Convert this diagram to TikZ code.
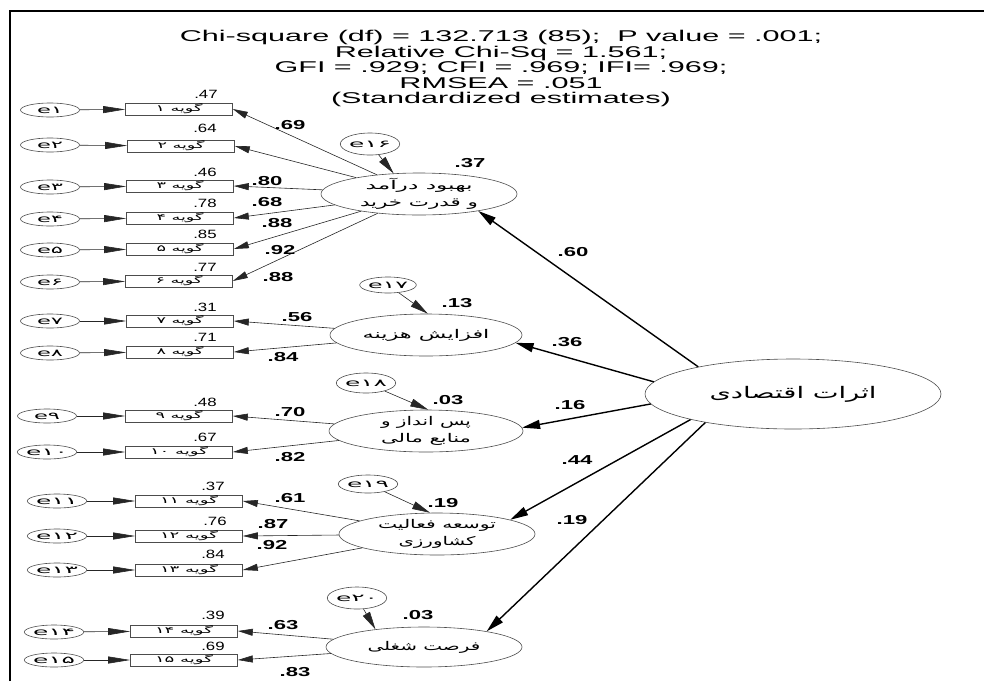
\documentclass[tikz,border=0pt]{standalone}
\usepackage{fontspec}
\usepackage{graphicx}
\setmainfont{Liberation Sans}
\newfontfamily\arfont[Script=Arabic]{DejaVu Sans}
\newfontfamily\dvfont{DejaVu Sans}
\TeXXeTstate=1
\usetikzlibrary{arrows.meta,shapes.geometric,calc}
\newcommand\fitw[2]{\resizebox{#1}{\height}{#2}}
\newcommand\sxs[2]{\scalebox{#1}[1]{#2}}
\newcommand\gv[1]{\fitw{47pt}{\beginR گویه \beginL #1\endL\endR}}
\newcommand\gvv[1]{\fitw{58pt}{\beginR گویه \beginL #1\endL\endR}}
\newcommand\ear[1]{\fitw{26pt}{e#1}}
\newcommand\eer[1]{\fitw{42pt}{e#1}}
\newcommand\rn[1]{\sxs{1.4}{#1}}
\newcommand\bn[1]{\sxs{1.7}{#1}}
\newcommand\ttl[1]{\sxs{1.96}{#1}}
\tikzset{
  ldarrow/.style={-{Triangle[length=15pt,width=7pt]}, line width=0.6pt, draw=black!85},
  errarrow/.style={-{Triangle[length=22pt,width=7pt]}, line width=0.6pt, draw=black!85},
  ferrarrow/.style={-{Triangle[length=18pt,width=8pt]}, line width=0.6pt, draw=black!85},
  patharrow/.style={-{Triangle[length=18pt,width=9pt]}, line width=1.4pt, draw=black},
  itembox/.style={rectangle, draw=black!70, line width=0.6pt, minimum width=107pt, minimum height=12pt, inner sep=0pt, font=\arfont\fontsize{9}{9}\selectfont},
  errell/.style={ellipse, draw=black!70, line width=0.6pt, minimum width=59pt, minimum height=14pt, inner sep=0pt, font=\dvfont\fontsize{10}{10}\selectfont},
  ferr/.style={ellipse, draw=black!70, line width=0.6pt, inner sep=0pt, font=\dvfont\fontsize{10}{10}\selectfont},
  lat/.style={ellipse, draw=black!70, line width=0.6pt, inner sep=0pt, minimum width=196pt, minimum height=42pt},
  ftext/.style={font=\arfont\fontsize{12}{17}\selectfont, align=center, inner sep=0pt},
  rsq/.style={font=\fontsize{12}{12}\selectfont, inner sep=0pt},
  ldl/.style={font=\bfseries\fontsize{13}{13}\selectfont, inner sep=0pt},
  ttlstyle/.style={font=\fontsize{15.6}{15.6}\selectfont, inner sep=0pt, anchor=base}
}
\begin{document}
\begin{tikzpicture}[x=1pt,y=-1pt]
\useasboundingbox (0,0) rectangle (984,681);
% frame
\coordinate (fbl) at (10,681);
\coordinate (ftl) at (10,11);
\coordinate (ftr) at (984,11);
\draw[line width=2pt] (fbl) -- (ftl) -- (ftr);
% title
\node[ttlstyle] (t1) at (501,41.5) {\ttl{Chi-square (df) = 132.713 (85);~ P value = .001;}};
\node[ttlstyle] (t2) at (501,57) {\ttl{Relative Chi-Sq = 1.561;}};
\node[ttlstyle] (t3) at (501,72.5) {\ttl{GFI = .929; CFI = .969; IFI= .969;}};
\node[ttlstyle] (t4) at (501,88) {\ttl{RMSEA = .051}};
\node[ttlstyle] (t5) at (501,103.5) {\ttl{(Standardized estimates)}};
% items
\node[itembox] (b1) at (179,109) {\gv{۱}};
\node[itembox] (b2) at (181,146) {\gv{۲}};
\node[itembox] (b3) at (180,186) {\gv{۳}};
\node[itembox] (b4) at (180,218) {\gv{۴}};
\node[itembox] (b5) at (180,249) {\gv{۵}};
\node[itembox] (b6) at (179,281) {\gv{۶}};
\node[itembox] (b7) at (180,321) {\gv{۷}};
\node[itembox] (b8) at (180,352) {\gv{۸}};
\node[itembox] (b9) at (179,416) {\gv{۹}};
\node[itembox] (b10) at (179,452) {\gvv{۱۰}};
\node[itembox] (b11) at (189,501) {\gvv{۱۱}};
\node[itembox] (b12) at (189,536) {\gvv{۱۲}};
\node[itembox] (b13) at (189,570) {\gvv{۱۳}};
\node[itembox] (b14) at (184,631) {\gvv{۱۴}};
\node[itembox] (b15) at (184,660) {\gvv{۱۵}};
% item errors
\node[errell] (e1) at (50,110) {\ear{۱}};
\node[errell] (e2) at (50,145) {\ear{۲}};
\node[errell] (e3) at (50,187) {\ear{۳}};
\node[errell] (e4) at (50,219) {\ear{۴}};
\node[errell] (e5) at (50,250) {\ear{۵}};
\node[errell] (e6) at (50,282) {\ear{۶}};
\node[errell] (e7) at (50,321) {\ear{۷}};
\node[errell] (e8) at (50,353) {\ear{۸}};
\node[errell] (e9) at (47,416) {\ear{۹}};
\node[errell] (e10) at (47,452) {\eer{۱۰}};
\node[errell] (e11) at (57,501) {\eer{۱۱}};
\node[errell] (e12) at (57,536) {\eer{۱۲}};
\node[errell] (e13) at (57,570) {\eer{۱۳}};
\node[errell] (e14) at (54,632) {\eer{۱۴}};
\node[errell] (e15) at (54,660) {\eer{۱۵}};
\foreach \i in {1,...,15} {\draw[errarrow] (e\i) -- (b\i);}
% latent factors
\node[lat] (F1) at (419,194) {};
\node[lat, minimum width=192pt] (F2) at (426,335) {};
\node[lat, minimum width=194pt] (F3) at (426,431) {};
\node[lat] (F4) at (437,534) {};
\node[lat, minimum height=40pt] (F5) at (424,647) {};
\node[lat, minimum width=296pt, minimum height=70pt] (M) at (793,394) {};
\node[ftext] (F1t) at (F1.center) {\fitw{107pt}{\beginR بهبود درآمد\endR}\\\fitw{118pt}{\beginR و قدرت خرید\endR}};
\node[ftext] (F2t) at (F2.center) {\fitw{127pt}{\beginR افزایش هزینه\endR}};
\node[ftext] (F3t) at (F3.center) {\fitw{90pt}{\beginR پس انداز و\endR}\\\fitw{90pt}{\beginR منابع مالی\endR}};
\node[ftext] (F4t) at (F4.center) {\fitw{118pt}{\beginR توسعه فعالیت\endR}\\\fitw{77pt}{\beginR کشاورزی\endR}};
\node[ftext] (F5t) at (F5.center) {\fitw{113pt}{\beginR فرصت شغلی\endR}};
\node[ftext, font=\arfont\fontsize{16}{16}\selectfont] (Mt) at (M.center) {\fitw{167pt}{\beginR اثرات اقتصادی\endR}};
% factor errors
\node[ferr, minimum width=55pt, minimum height=22pt] (e16) at (370,144) {\eer{۱۶}};
\node[ferr, minimum width=47pt, minimum height=16pt] (e17) at (388,285) {\fitw{40pt}{e۱۷}};
\node[ferr, minimum width=57pt, minimum height=20pt] (e18) at (366,383) {\eer{۱۸}};
\node[ferr, minimum width=57pt, minimum height=18pt] (e19) at (368,484) {\eer{۱۹}};
\node[ferr, minimum width=55pt, minimum height=22pt] (e20) at (357,598) {\eer{۲۰}};
\draw[ferrarrow] (e16) -- (F1.141);
\draw[ferrarrow] (e17) -- (F2.85);
\draw[ferrarrow] (e18) -- (F3.84);
\draw[ferrarrow] (e19) -- (F4.108);
\draw[ferrarrow] (e20) -- (F5.160);
% loadings
\foreach \i in {1,...,6} {\draw[ldarrow] (F1) -- (b\i.east);}
\foreach \i in {7,8} {\draw[ldarrow] (F2) -- (b\i.east);}
\foreach \i in {9,10} {\draw[ldarrow] (F3) -- (b\i.east);}
\foreach \i in {11,12,13} {\draw[ldarrow] (F4) -- (b\i.east);}
\foreach \i in {14,15} {\draw[ldarrow] (F5) -- (b\i.east);}
% structural paths
\draw[patharrow] (M.164) -- (F1.344);
\draw[patharrow] (M.175) -- (F2.355);
\draw[patharrow] (M.184.5) -- (F3.2.4);
\draw[patharrow] (M.194) -- (F4.11);
\draw[patharrow] (M.198.5) -- (F5.14.4);
% R-squared of items
\node[rsq] (r1) at (206,94) {\rn{.47}};
\node[rsq] (r2) at (205,128) {\rn{.64}};
\node[rsq] (r3) at (205,172) {\rn{.46}};
\node[rsq] (r4) at (205,203) {\rn{.78}};
\node[rsq] (r5) at (205,234) {\rn{.85}};
\node[rsq] (r6) at (205,267) {\rn{.77}};
\node[rsq] (r7) at (205,307) {\rn{.31}};
\node[rsq] (r8) at (205,337) {\rn{.71}};
\node[rsq] (r9) at (205,402) {\rn{.48}};
\node[rsq] (r10) at (205,437) {\rn{.67}};
\node[rsq] (r11) at (213,486) {\rn{.37}};
\node[rsq] (r12) at (215,521) {\rn{.76}};
\node[rsq] (r13) at (213,554) {\rn{.84}};
\node[rsq] (r14) at (213,615) {\rn{.39}};
\node[rsq] (r15) at (213,646) {\rn{.69}};
% loadings labels
\node[ldl] (l1) at (290,125) {\bn{.69}};
\node[ldl] (l3) at (267,181) {\bn{.80}};
\node[ldl] (l4) at (267,202) {\bn{.68}};
\node[ldl] (l5) at (277,223) {\bn{.88}};
\node[ldl] (l6) at (280,250) {\bn{.92}};
\node[ldl] (l2) at (278,277) {\bn{.88}};
\node[ldl] (l7) at (297,317) {\bn{.56}};
\node[ldl] (l8) at (283,357) {\bn{.84}};
\node[ldl] (l9) at (290,412) {\bn{.70}};
\node[ldl] (l10) at (290,457) {\bn{.82}};
\node[ldl] (l11) at (290,498) {\bn{.61}};
\node[ldl] (l12) at (273,524) {\bn{.87}};
\node[ldl] (l13) at (272,545) {\bn{.92}};
\node[ldl] (l14) at (283,625) {\bn{.63}};
\node[ldl] (l15) at (295,672) {\bn{.83}};
% factor R-squared
\node[ldl] (q1) at (470,163) {\bn{.37}};
\node[ldl] (q2) at (457,303) {\bn{.13}};
\node[ldl] (q3) at (448,400) {\bn{.03}};
\node[ldl] (q4) at (443,503) {\bn{.19}};
\node[ldl] (q5) at (418,615) {\bn{.03}};
% path coefficients
\node[ldl] (p1) at (573,252) {\bn{.60}};
\node[ldl] (p2) at (567,342) {\bn{.36}};
\node[ldl] (p3) at (570,405) {\bn{.16}};
\node[ldl] (p4) at (577,460) {\bn{.44}};
\node[ldl] (p5) at (572,520) {\bn{.19}};
\end{tikzpicture}
\end{document}
